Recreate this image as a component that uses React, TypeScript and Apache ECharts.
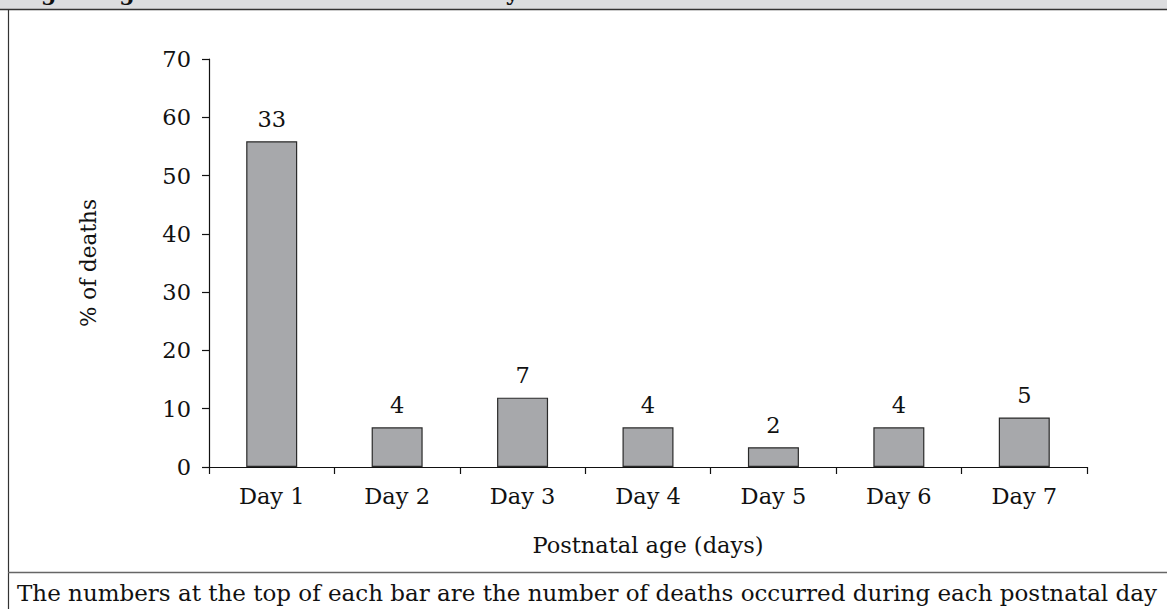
import React, { useEffect, useRef } from "react";
import * as echarts from "echarts";

const categories = ["Day 1", "Day 2", "Day 3", "Day 4", "Day 5", "Day 6", "Day 7"];
const percentDeaths = [55.9, 6.8, 11.9, 6.8, 3.4, 6.8, 8.5];
const deathCounts = [33, 4, 7, 4, 2, 4, 5];
const yTicks = [0, 10, 20, 30, 40, 50, 60, 70];
const titleText = "Fig. 1. Age of infants at the time of early neonatal death";
const captionText =
  "The numbers at the top of each bar are the number of deaths occurred during each postnatal day";

const FONT = "'DejaVu Serif', serif";
const FS = 22.5;

export default function App() {
  const ref = useRef<HTMLDivElement>(null);
  useEffect(() => {
    document.body.style.margin = "0";
    if (!ref.current) return;
    const chart = echarts.init(ref.current, undefined, { renderer: "svg" });
    chart.setOption({
      animation: false,
      backgroundColor: "#ffffff",
      textStyle: { fontFamily: FONT },
      grid: { left: 209, right: 80, top: 59, bottom: 142, containLabel: false },
      xAxis: {
        type: "category",
        data: categories,
        name: "Postnatal age (days)",
        nameLocation: "middle",
        nameGap: 66,
        nameTextStyle: { fontFamily: FONT, fontSize: FS, color: "#111" },
        axisLine: { lineStyle: { color: "#111", width: 1.2 } },
        axisTick: { show: true, length: 7, alignWithLabel: false, lineStyle: { color: "#111", width: 1.2 } },
        axisLabel: { fontFamily: FONT, fontSize: FS, color: "#111", margin: 17 },
      },
      yAxis: {
        type: "value",
        min: 0,
        max: 70,
        interval: 10,
        name: "% of deaths",
        nameLocation: "middle",
        nameGap: 110,
        nameRotate: 90,
        nameTextStyle: { fontFamily: FONT, fontSize: 21.5, color: "#111" },
        axisLine: { show: true, lineStyle: { color: "#111", width: 1.2 } },
        axisTick: { show: true, length: 7, lineStyle: { color: "#111", width: 1.2 } },
        splitLine: { show: false },
        axisLabel: {
          fontFamily: FONT,
          fontSize: FS,
          color: "#111",
          margin: 18,
          formatter: (v: number) => (yTicks.includes(v) ? String(v) : ""),
        },
      },
      series: [
        {
          type: "bar",
          data: percentDeaths,
          barWidth: 51,
          itemStyle: { color: "#a7a8ab", borderColor: "#2a2a2a", borderWidth: 1.2 },
          label: {
            show: true,
            position: "top",
            distance: 11,
            fontFamily: FONT,
            fontSize: FS,
            color: "#111",
            formatter: (p: any) => String(deathCounts[p.dataIndex]),
          },
        },
      ],
      graphic: [
        { type: "rect", shape: { x: 0, y: 0, width: 1167, height: 9 }, style: { fill: "#dcdddf" }, silent: true },
        {
          type: "text",
          x: 17,
          y: 2.5,
          style: { text: titleText, font: `bold 22px ${FONT}`, fill: "#111", verticalAlign: "bottom" },
          silent: true,
        },
        { type: "line", shape: { x1: 0, y1: 9.5, x2: 1167, y2: 9.5 }, style: { stroke: "#333", lineWidth: 1.6 }, silent: true },
        { type: "line", shape: { x1: 8.5, y1: 10, x2: 8.5, y2: 609 }, style: { stroke: "#333", lineWidth: 1.2 }, silent: true },
        { type: "line", shape: { x1: 8, y1: 572.5, x2: 1167, y2: 572.5 }, style: { stroke: "#666", lineWidth: 1.4 }, silent: true },
        {
          type: "text",
          x: 17,
          y: 593,
          style: { text: captionText, font: `23px ${FONT}`, fill: "#111", verticalAlign: "middle" },
          silent: true,
        },
      ],
    });
    return () => chart.dispose();
  }, []);
  return <div ref={ref} style={{ width: 1167, height: 609 }} />;
}
